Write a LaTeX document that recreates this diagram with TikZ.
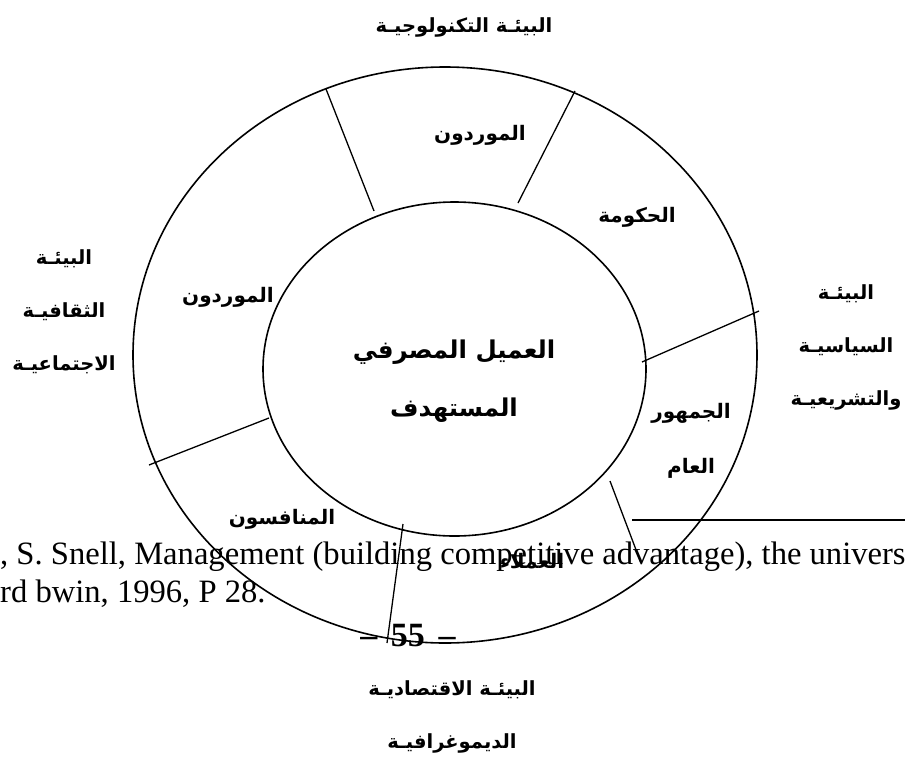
\documentclass[tikz,border=0pt]{standalone}
\usepackage{fontspec}
\setmainfont{Liberation Serif}
\newfontfamily\arabicfont[Script=Arabic]{DejaVu Sans}
\TeXXeTstate=1
\tikzset{
  ring/.style={line width=1.6pt},
  divider/.style={line width=1.3pt},
  rulerline/.style={line width=2.2pt},
  envlabel/.style={font={\arabicfont\bfseries\fontsize{19.5}{53}\selectfont}, align=center, inner sep=0pt},
  seglabel/.style={font={\arabicfont\bfseries\fontsize{20}{55}\selectfont}, align=center, inner sep=0pt},
  corelabel/.style={font={\arabicfont\bfseries\fontsize{24.5}{58}\selectfont}, align=center, inner sep=0pt},
  reftext/.style={font={\fontsize{32.6}{39}\selectfont}, inner sep=0pt, anchor=base west},
  pagenum/.style={font={\bfseries\fontsize{34}{40}\selectfont}, inner sep=0pt, anchor=base},
}
\begin{document}
\begin{tikzpicture}[x=1pt,y=-1pt]
\useasboundingbox (0,0) rectangle (905,758);
\fill[white] (0,0) rectangle (905,758);
% rings
\draw[ring] (445,355) ellipse [x radius=312, y radius=288];
\draw[ring] (454.5,369) ellipse [x radius=191.5, y radius=167];
% divider end points
\coordinate (d1o) at (326,89);   \coordinate (d1i) at (374,211);
\coordinate (d2o) at (575,91);   \coordinate (d2i) at (518,203);
\coordinate (d3o) at (759,311);  \coordinate (d3i) at (642,362);
\coordinate (d4o) at (149,465);  \coordinate (d4i) at (269,418);
\coordinate (d5i) at (403,524);  \coordinate (d5o) at (387,643);
\coordinate (d6i) at (610,481);  \coordinate (d6o) at (641,563);
\coordinate (hl) at (632,520);   \coordinate (hr) at (905,520);
\draw[divider] (d1o) -- (d1i);
\draw[divider] (d2o) -- (d2i);
\draw[divider] (d3o) -- (d3i);
\draw[divider] (d4o) -- (d4i);
\draw[divider] (d5i) -- (d5o);
\draw[divider] (d6i) -- (d6o);
\draw[rulerline] (hl) -- (hr);
% environment labels
\node[envlabel] (tech) at (464,27) {\beginR البيئـة التكنولوجيـة\endR};
\node[envlabel] (cult) at (64,312) {\beginR البيئـة\endR\\\beginR الثقافيـة\endR\\\beginR الاجتماعيـة\endR};
\node[envlabel] (pol) at (846,347) {\beginR البيئـة\endR\\\beginR السياسيـة\endR\\\beginR والتشريعيـة\endR};
\node[envlabel] (econ) at (452,717) {\beginR البيئـة الاقتصاديـة\endR\\\beginR الديموغرافيـة\endR};
% segment labels
\node[seglabel] (supA) at (480,135) {\beginR الموردون\endR};
\node[seglabel] (gov) at (637,217) {\beginR الحكومة\endR};
\node[seglabel] (supB) at (228,297) {\beginR الموردون\endR};
\node[seglabel] (public) at (691,441) {\beginR الجمهور\endR\\\beginR العام\endR};
\node[seglabel] (comp) at (282,519) {\beginR المنافسون\endR};
\node[seglabel] (cust) at (532,561) {\beginR العملاء\endR};
% core
\node[corelabel] (core) at (454,381) {\beginR العميل المصرفي\endR\\\beginR المستهدف\endR};
% reference text
\node[reftext] (ref1) at (0,564) {, S. Snell, Management (building competitive advantage), the univers};
\node[reftext] (ref2) at (0,602) {rd bwin, 1996, P 28.};
\node[pagenum] (pg) at (408,646) {–\hspace{0.4em}55\hspace{0.4em}–};
\end{tikzpicture}
\end{document}
